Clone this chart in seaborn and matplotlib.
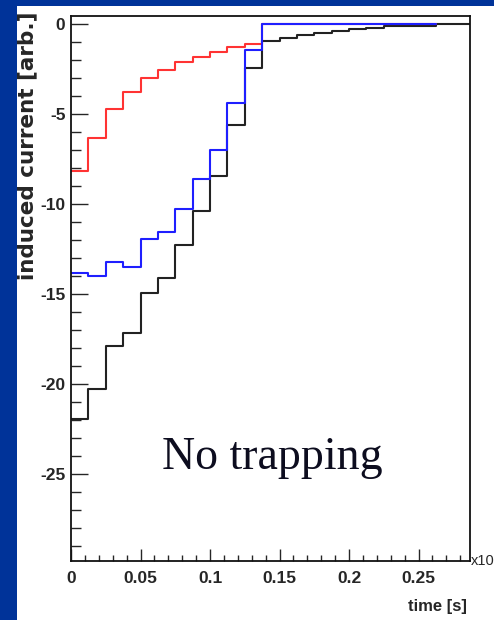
import numpy as np
import pandas as pd
import matplotlib
matplotlib.use("Agg")
import matplotlib.pyplot as plt
import matplotlib.patches as mpatches
from matplotlib.ticker import MultipleLocator, FixedLocator, FixedFormatter
import seaborn as sns

# ---- data ----
bin_width = 0.0125
black_values = [-21.96, -20.28, -17.87, -17.18, -14.96, -14.13, -12.30, -10.39,
                -8.43, -5.63, -2.46, -0.93, -0.76, -0.63, -0.48, -0.37, -0.28,
                -0.20, -0.11, -0.11, -0.11, 0.0, 0.0]
red_values = [-8.15, -6.33, -4.70, -3.80, -3.00, -2.55, -2.10, -1.83, -1.55,
              -1.30, -1.10, 0.0, 0.0, 0.0, 0.0, 0.0, 0.0, 0.0, 0.0, 0.0, 0.0]
blue_values = [-13.85, -14.02, -13.20, -13.50, -11.94, -11.57, -10.26, -8.60,
               -7.00, -4.37, -1.46, 0.0, 0.0, 0.0, 0.0, 0.0, 0.0, 0.0, 0.0,
               0.0, 0.0]
x_ticks = [0, 0.05, 0.1, 0.15, 0.2, 0.25]
x_tick_labels = ["0", "0.05", "0.1", "0.15", "0.2", "0.25"]
y_ticks = [0, -5, -10, -15, -20, -25]
y_tick_labels = ["0", "-5", "-10", "-15", "-20", "-25"]

sns.set_style("ticks")
tick_font = ["Liberation Sans", "DejaVu Sans"]

W, H = 494, 620
fig = plt.figure(figsize=(W / 100, H / 100), dpi=100, facecolor="#003399")
fig.patches.append(mpatches.Rectangle((17 / W, 0), 1 - 17 / W, (H - 6) / H,
                                      transform=fig.transFigure,
                                      facecolor="white", edgecolor="none",
                                      zorder=-10))
ax = fig.add_axes([71 / W, 1 - 561 / H, (470 - 71) / W, (561 - 16) / H])
ax.set_facecolor("white")


def draw(values, color):
    n = len(values)
    edges = np.arange(n + 1) * bin_width
    df = pd.DataFrame({"t": edges, "v": list(values) + [values[-1]]})
    sns.lineplot(data=df, x="t", y="v", drawstyle="steps-post",
                 estimator=None, sort=False, color=color, linewidth=1.5, ax=ax)


draw(black_values, "#222222")
draw(red_values, "#ff3333")
draw(blue_values, "#1f1fff")

ax.set_xlim(0, 0.287)
ax.set_ylim(-29.85, 0.45)
ax.set_xlabel("")
ax.set_ylabel("")

ax.xaxis.set_major_locator(FixedLocator(x_ticks))
ax.xaxis.set_major_formatter(FixedFormatter(x_tick_labels))
ax.xaxis.set_minor_locator(MultipleLocator(0.01))
ax.yaxis.set_major_locator(FixedLocator(y_ticks))
ax.yaxis.set_major_formatter(FixedFormatter(y_tick_labels))
ax.yaxis.set_minor_locator(MultipleLocator(1))

ax.tick_params(axis="y", which="major", direction="in", length=12.2, width=1.0,
               pad=4, labelsize=12.5, right=False)
ax.tick_params(axis="y", which="minor", direction="in", length=7.2, width=1.0,
               right=False)
ax.tick_params(axis="x", which="major", direction="in", length=8.5, width=1.0,
               pad=7, labelsize=12.5, top=False)
ax.tick_params(axis="x", which="minor", direction="in", length=4.3, width=1.0,
               top=False)
for lab in ax.get_xticklabels() + ax.get_yticklabels():
    lab.set_family(tick_font)
    lab.set_fontweight("bold")

for s in ax.spines.values():
    s.set_visible(True)
    s.set_linewidth(1.3)
    s.set_color("#111111")

fig.text(27 / W, 1 - 12 / H, "induced current [arb.]", rotation=90,
         ha="center", va="top", fontsize=15.5, fontweight="bold",
         family=["DejaVu Sans"])
fig.text(467 / W, 1 - 606 / H, "time [s]", ha="right", va="center",
         fontsize=12, fontweight="bold", family=tick_font)
fig.text(471 / W, 1 - 561 / H, "x10", ha="left", va="center",
         fontsize=10.5, family=tick_font)
ax.text(0.1446, -24.72, "No trapping", ha="center", va="baseline",
        fontsize=33, color="#0d0d1f", family=["Liberation Serif", "DejaVu Serif"])

fig.savefig("out.png", dpi=100, facecolor=fig.get_facecolor())
